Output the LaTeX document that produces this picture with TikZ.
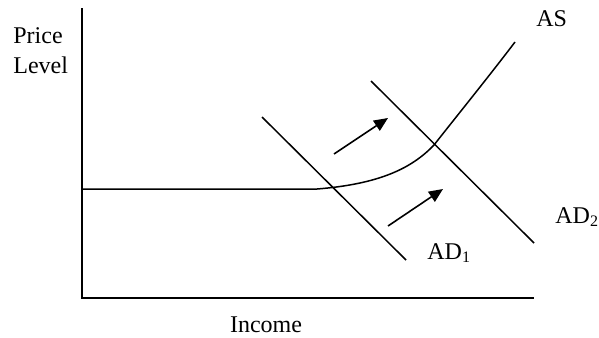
\documentclass[tikz,border=0pt]{standalone}
\usepackage{fontspec}
\setmainfont{Liberation Serif}
\usetikzlibrary{arrows.meta}

\begin{document}
\begin{tikzpicture}[x=0.5pt,y=-0.5pt,>={Triangle[length=7pt,width=6pt]},
    lbl/.style={inner sep=0pt,font=\fontsize{12}{14}\selectfont},
    axis/.style={line width=1pt},
    curve/.style={line width=0.75pt}]
            \useasboundingbox (0,0) rectangle (599,337);
            % axes
            \coordinate (top) at (82,8);
            \coordinate (origin) at (82,298);
            \coordinate (right) at (534,298);
            \draw[axis] (top) -- (origin) -- (right);
            \node[lbl,anchor=base west] (price) at (13,43) {Price};
            \node[lbl,anchor=base west] (level) at (13,73) {Level};
            \node[lbl,anchor=base] (income) at (266,332) {Income};
            % supply
            \coordinate (as0) at (82,189);
            \coordinate (kink) at (317,189);
            \coordinate (eq) at (434,145);
            \coordinate (as1) at (515,42);
            \draw[curve] (as0) -- (kink) .. controls (380,184) and (412,168) .. (eq)
                .. controls (456,117) and (490,75) .. (as1);
            \node[lbl,anchor=base west] (as) at (536,26) {AS};
            % demand
            \coordinate (d1a) at (262,117);
            \coordinate (d1b) at (406,260);
            \coordinate (d2a) at (371,81);
            \coordinate (d2b) at (534,243);
            \draw[curve] (d1a) -- (d1b);
            \draw[curve] (d2a) -- (d2b);
            \node[lbl,anchor=base west] (ad1) at (427,259) {AD\textsubscript{1}};
            \node[lbl,anchor=base west] (ad2) at (555,223) {AD\textsubscript{2}};
            % shift
            \coordinate (s1) at (334,154);
            \coordinate (e1) at (388,118);
            \coordinate (s2) at (388,226);
            \coordinate (e2) at (443,189);
            \draw[->,line width=0.8pt] (s1) -- (e1);
            \draw[->,line width=0.8pt] (s2) -- (e2);
        \end{tikzpicture}
\end{document}
